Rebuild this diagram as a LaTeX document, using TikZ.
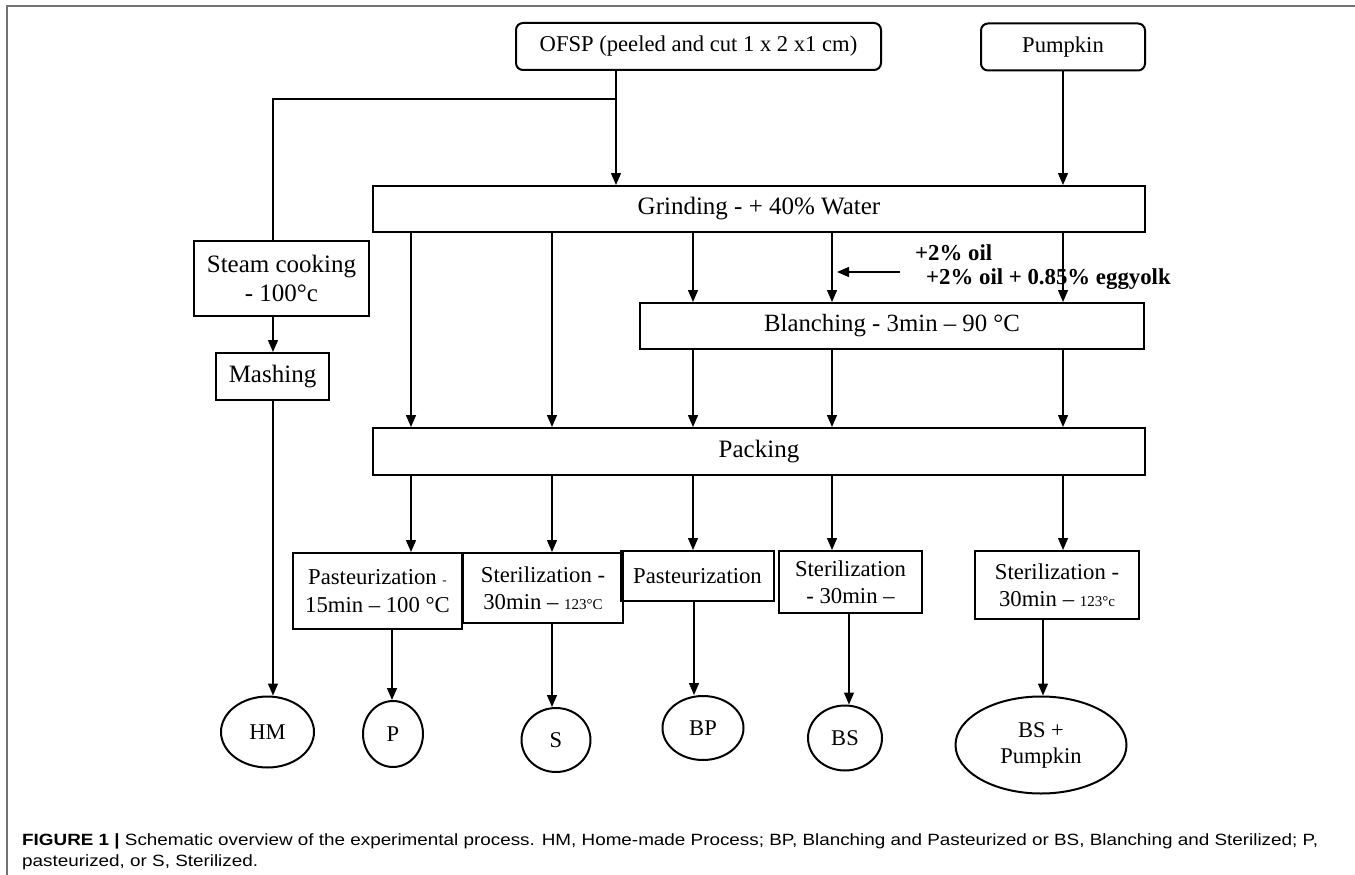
\documentclass[tikz,border=0pt]{standalone}
\usepackage{fontspec}
\setmainfont{Liberation Serif}
\newfontfamily\capfont{Liberation Sans}
\usetikzlibrary{arrows.meta,shapes.geometric}
\newsavebox\capA
\newsavebox\capB
\newcommand\fsz[2]{\fontsize{#1}{#2}\selectfont}
\begin{document}
\sbox\capA{\capfont\fsz{16.3}{20}\textbf{FIGURE 1 |} Schematic overview of the experimental process. HM, Home-made Process; BP, Blanching and Pasteurized or BS, Blanching and Sterilized; P,}%
\sbox\capB{\capfont\fsz{16.3}{20}pasteurized, or S, Sterilized.}%
\pgfmathsetmacro\capsx{1296pt/\the\wd\capA}%
\begin{tikzpicture}[x=1pt,y=-1pt,
  box/.style={draw,line width=2pt,rectangle,inner sep=0pt,align=center},
  rbox/.style={box,rounded corners=7pt},
  oval/.style={draw,line width=2pt,ellipse,inner sep=0pt,align=center,font=\fsz{22.5}{26}},
  arr/.style={line width=1.4pt,-{Triangle[length=12pt,width=10pt]}},
  ln/.style={line width=1.4pt},
  frm/.style={draw=black!55,line width=1.5pt},
  bot/.style={box,font=\fsz{22.7}{27.5}},
  oil/.style={anchor=west,inner sep=0pt,font=\fsz{22.8}{26}\bfseries},
]
\useasboundingbox (0,0) rectangle (1355,875);
\draw[frm] (7,875) -- (7,6) -- (1355,6);

% top boxes
\node[rbox,minimum width=365pt,minimum height=47pt,font=\fsz{22.6}{26}] (ofsp) at (698.5,46.5) {OFSP (peeled and cut 1 x 2 x1 cm)};
\node[rbox,minimum width=164pt,minimum height=47pt,font=\fsz{22.6}{26}] (pump) at (1063,47) {Pumpkin};
\node[box,minimum width=772pt,minimum height=46pt,font=\fsz{25}{29}] (grind) at (759,209) {Grinding - + 40\% Water};
\node[box,minimum width=175pt,minimum height=75pt,font=\fsz{25}{29}] (steam) at (281.5,278.5) {Steam cooking\\- 100°c};
\node[box,minimum width=113pt,minimum height=47pt,font=\fsz{25}{29}] (mash) at (272.5,376.5) {Mashing};
\node[box,minimum width=504pt,minimum height=46pt,font=\fsz{24.8}{29}] (blanch) at (892,326) {Blanching - 3min – 90 °C};
\node[box,minimum width=772pt,minimum height=47pt,font=\fsz{25}{29}] (pack) at (759,451.5) {Packing};

% oil labels
\node[oil] (oil1) at (915,253) {+2\% oil};
\node[oil] (oil2) at (926,279) {+2\% oil + 0.85\% eggyolk};

% bottom boxes
\node[bot,minimum width=169pt,minimum height=76pt] (b1) at (377.5,591) {Pasteurization {\fsz{13}{15}-}\\15min – 100 °C};
\node[bot,minimum width=160pt,minimum height=70pt] (b2) at (543,588) {Sterilization -\\30min – {\fsz{15}{18}123°C}};
\node[bot,minimum width=153pt,minimum height=50pt] (b3) at (697.5,576) {Pasteurization};
\node[bot,minimum width=143pt,minimum height=62pt] (b4) at (850.5,582) {Sterilization\\- 30min –};
\node[bot,minimum width=164pt,minimum height=68pt] (b5) at (1057,585) {Sterilization -\\30min – {\fsz{15}{18}123°c}};

% end ovals
\node[oval,minimum width=93pt,minimum height=71pt] (hm) at (267.5,732) {HM};
\node[oval,minimum width=60pt,minimum height=66pt] (p) at (393,734) {P};
\node[oval,minimum width=69pt,minimum height=64pt] (s) at (556,740) {S};
\node[oval,minimum width=81pt,minimum height=64pt] (bp) at (703,728) {BP};
\node[oval,minimum width=74pt,minimum height=65pt] (bs) at (845,738) {BS};
\node[oval,minimum width=171pt,minimum height=97pt] (bsp) at (1041,745) {BS +\\Pumpkin};

% column coordinates
\coordinate (kO) at (616,99);
\coordinate (kS) at (273,0);
\coordinate (k1) at (411,0);
\coordinate (k2) at (552,0);
\coordinate (k3) at (693,0);
\coordinate (k4) at (832,0);
\coordinate (k5) at (1063,0);
\coordinate (d1) at (392,0);
\coordinate (d2) at (552,0);
\coordinate (d3) at (694,0);
\coordinate (d4) at (849,0);
\coordinate (d5) at (1043,0);
\coordinate (oilS) at (900,272);
\coordinate (oilE) at (837,272);

% connectors
\draw[arr] (ofsp.south -| kO) -- (grind.north -| kO);
\draw[ln] (kO) -- (kO -| kS) -- (steam.north -| kS);
\draw[arr] (pump.south -| k5) -- (grind.north -| k5);
\draw[arr] (steam.south -| kS) -- (mash.north -| kS);
\draw[arr] (mash.south -| kS) -- (hm.north -| kS);

\draw[arr] (grind.south -| k1) -- (pack.north -| k1);
\draw[arr] (grind.south -| k2) -- (pack.north -| k2);
\draw[arr] (grind.south -| k3) -- (blanch.north -| k3);
\draw[arr] (grind.south -| k4) -- (blanch.north -| k4);
\draw[arr] (grind.south -| k5) -- (blanch.north -| k5);
\draw[arr] (oilS) -- (oilE);

\draw[arr] (blanch.south -| k3) -- (pack.north -| k3);
\draw[arr] (blanch.south -| k4) -- (pack.north -| k4);
\draw[arr] (blanch.south -| k5) -- (pack.north -| k5);

\draw[arr] (pack.south -| k1) -- (b1.north -| k1);
\draw[arr] (pack.south -| k2) -- (b2.north -| k2);
\draw[arr] (pack.south -| k3) -- (b3.north -| k3);
\draw[arr] (pack.south -| k4) -- (b4.north -| k4);
\draw[arr] (pack.south -| k5) -- (b5.north -| k5);

\draw[arr] (b1.south -| d1) -- (p.north -| d1);
\draw[arr] (b2.south -| d2) -- (s.north -| d2);
\draw[arr] (b3.south -| d3) -- (bp.north -| d3);
\draw[arr] (b4.south -| d4) -- (bs.north -| d4);
\draw[arr] (b5.south -| d5) -- (bsp.north -| d5);

% caption
\node[anchor=base west,inner sep=0pt,text=black!85] (cap1) at (22,845) {\scalebox{\capsx}[1]{\usebox\capA}};
\node[anchor=base west,inner sep=0pt,text=black!85] (cap2) at (22,866) {\scalebox{\capsx}[1]{\usebox\capB}};
\end{tikzpicture}
\end{document}
